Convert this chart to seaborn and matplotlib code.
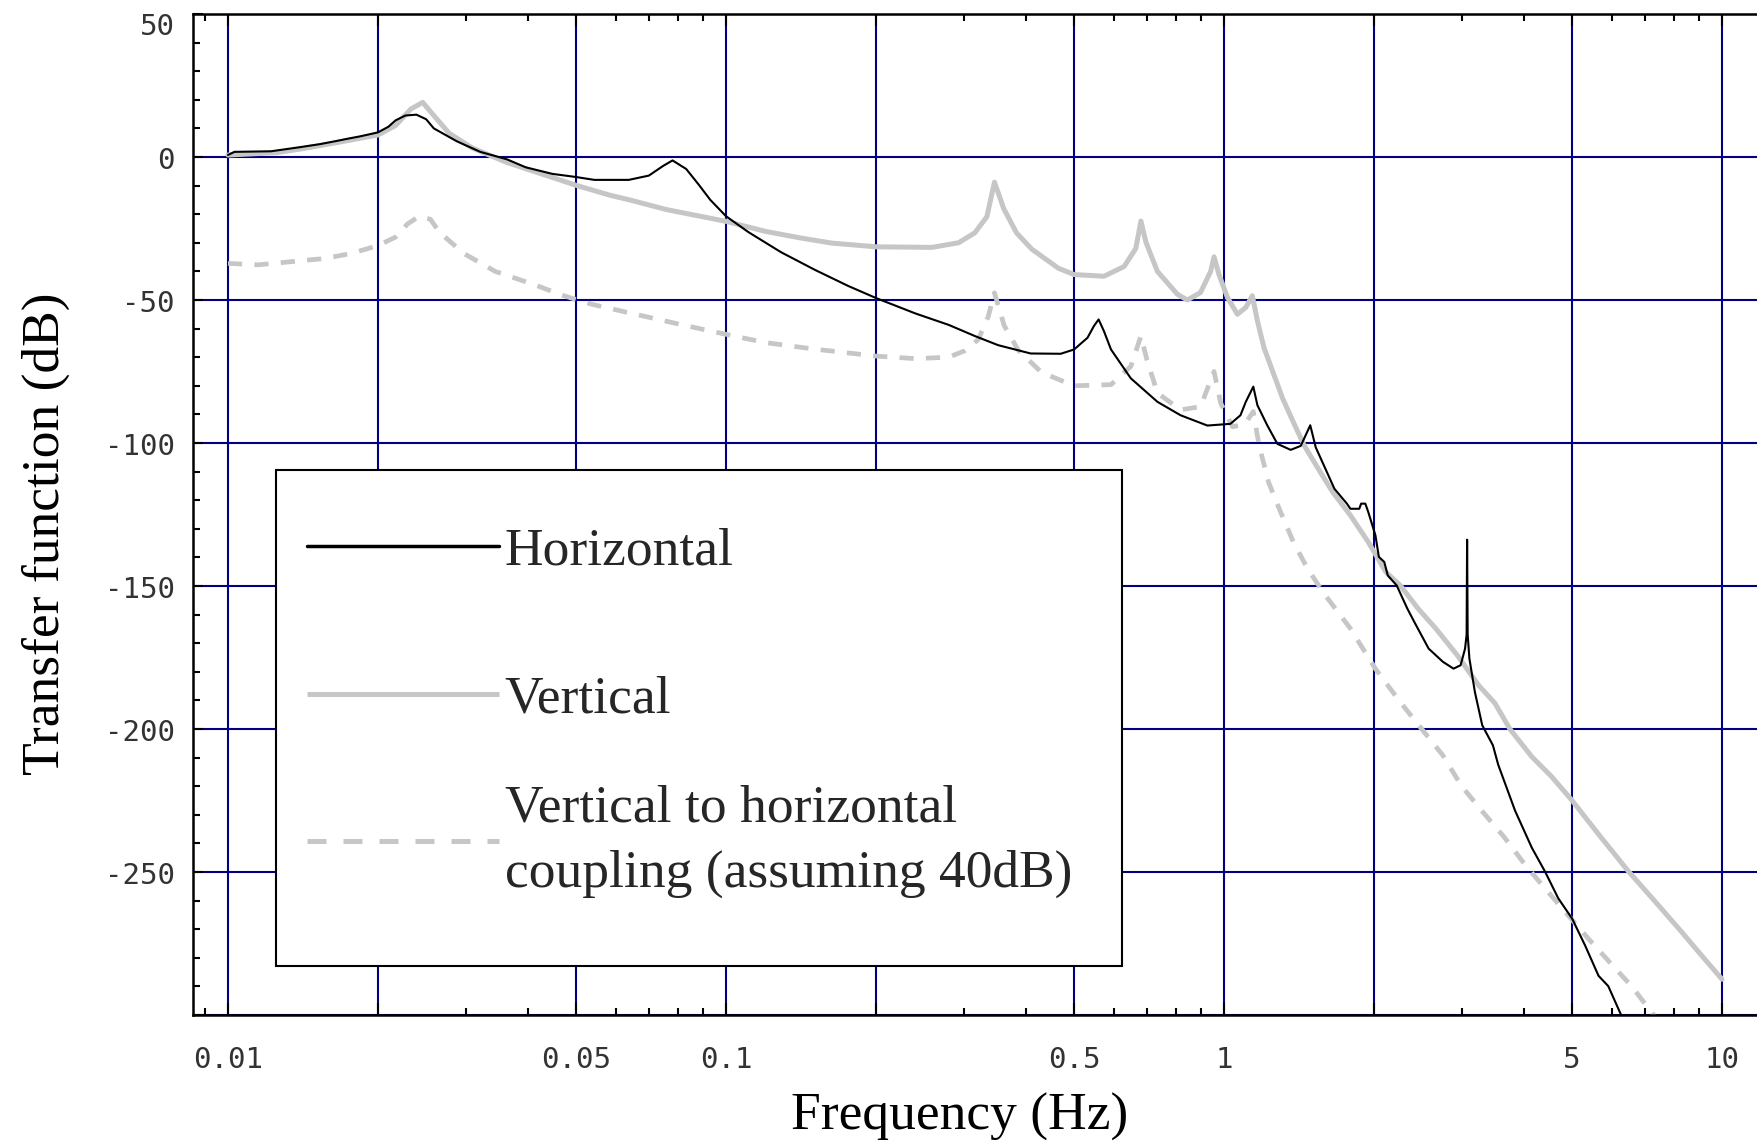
import matplotlib
matplotlib.use("Agg")
import matplotlib.pyplot as plt
import matplotlib.ticker as mticker
import matplotlib.transforms as mtransforms
from matplotlib.lines import Line2D
from matplotlib.patches import Rectangle
import pandas as pd
import seaborn as sns

# Horizontal transfer function (Hz, dB)
freq_h = [0.01, 0.0103, 0.0122, 0.0139, 0.0153, 0.0164, 0.0174, 0.0184, 0.020, 0.021,
          0.0217, 0.0227, 0.0239, 0.0250, 0.0259, 0.0288, 0.0321, 0.0363, 0.0396, 0.0448,
          0.050, 0.0544, 0.0638, 0.0700, 0.0748, 0.0781, 0.0832, 0.0880, 0.0930, 0.100,
          0.111, 0.129, 0.151, 0.176, 0.200, 0.240, 0.280, 0.316, 0.352, 0.409,
          0.470, 0.500, 0.532, 0.548, 0.560, 0.574, 0.593, 0.650, 0.735, 0.818,
          0.926, 1.030, 1.079, 1.106, 1.145, 1.167, 1.222, 1.280, 1.361, 1.426,
          1.490, 1.528, 1.598, 1.666, 1.765, 1.794, 1.869, 1.885, 1.922, 1.948,
          2.014, 2.046, 2.098, 2.132, 2.222, 2.334, 2.411, 2.576, 2.751, 2.890,
          2.986, 3.048, 3.070, 3.077, 3.085, 3.110, 3.190, 3.300, 3.467, 3.553,
          3.840, 4.150, 4.410, 4.690, 5.000, 5.310, 5.650, 5.910, 6.290]
db_h = [0.7, 1.8, 2.0, 3.4, 4.5, 5.5, 6.4, 7.2, 8.6, 10.6,
        12.8, 14.5, 14.8, 13.2, 10.0, 5.5, 1.8, -0.8, -3.6, -5.9,
        -7.0, -8.0, -8.0, -6.5, -3.1, -1.2, -4.2, -9.5, -15.0, -20.7,
        -26.3, -33.3, -39.5, -45.1, -49.3, -54.7, -58.7, -62.6, -65.8, -68.7,
        -68.8, -67.3, -63.2, -59.1, -56.8, -60.9, -67.3, -77.4, -85.6, -90.3,
        -93.9, -93.3, -90.3, -85.6, -80.3, -86.8, -93.9, -100.3, -102.4, -101.0,
        -93.8, -101.5, -109.0, -116.0, -121.2, -123.0, -123.0, -121.2, -121.2, -124.1,
        -132.3, -139.8, -141.6, -146.3, -149.8, -157.9, -162.6, -171.9, -176.5, -178.9,
        -177.7, -171.9, -167.0, -133.8, -167.0, -175.4, -187.1, -198.7, -205.7, -212.5,
        -228.5, -241.5, -249.8, -259.2, -266.3, -275.7, -286.3, -289.9, -300.5]

# Vertical transfer function (Hz, dB)
freq_v = [0.01, 0.0125, 0.014, 0.0165, 0.020, 0.0217, 0.0233, 0.0246, 0.0259, 0.0278,
          0.0309, 0.0363, 0.050, 0.0583, 0.0647, 0.076, 0.100, 0.120, 0.140, 0.163,
          0.200, 0.259, 0.293, 0.316, 0.334, 0.346, 0.361, 0.383, 0.411, 0.465,
          0.500, 0.574, 0.630, 0.665, 0.681, 0.697, 0.735, 0.806, 0.844, 0.897,
          0.940, 0.955, 0.977, 1.016, 1.064, 1.106, 1.140, 1.167, 1.203, 1.260,
          1.312, 1.378, 1.448, 1.546, 1.652, 1.794, 1.948, 2.113, 2.259, 2.453,
          2.663, 2.940, 3.244, 3.500, 3.750, 4.150, 4.550, 5.000, 5.650, 6.490,
          7.450, 8.300, 9.100, 10.0]
db_v = [0.7, 1.5, 2.8, 5.0, 7.7, 11.0, 16.8, 19.1, 14.5, 8.3,
        3.2, -1.9, -9.9, -13.3, -15.2, -18.4, -22.5, -26.0, -28.2, -30.1,
        -31.4, -31.6, -30.0, -26.5, -20.9, -8.8, -18.0, -26.5, -32.2, -38.9,
        -41.1, -41.7, -38.3, -32.0, -22.4, -29.8, -40.0, -48.0, -50.0, -47.4,
        -40.0, -34.9, -41.1, -49.1, -55.0, -52.6, -48.5, -57.3, -66.7, -76.2,
        -84.5, -92.7, -100.8, -109.0, -117.1, -125.3, -134.6, -145.1, -149.8, -157.9,
        -164.9, -174.2, -184.7, -191.0, -200.0, -209.7, -216.7, -225.0, -236.8, -249.8,
        -261.6, -271.0, -279.2, -287.5]

# Vertical-to-horizontal coupling (Hz, dB)
freq_c = [0.01, 0.0115, 0.0156, 0.0176, 0.020, 0.0217, 0.0229, 0.0242, 0.0255, 0.0266,
          0.0298, 0.0344, 0.041, 0.0472, 0.0535, 0.0647, 0.0817, 0.100, 0.120, 0.151,
          0.200, 0.240, 0.280, 0.302, 0.321, 0.336, 0.346, 0.362, 0.386, 0.430,
          0.500, 0.593, 0.650, 0.681, 0.700, 0.735, 0.818, 0.897, 0.955, 0.985,
          1.040, 1.100, 1.145, 1.175, 1.228, 1.291, 1.378, 1.472, 1.598, 1.794,
          2.013, 2.259, 2.492, 2.750, 3.000, 3.290, 3.660, 4.020, 4.410, 4.840,
          5.390, 5.910, 6.580, 7.330]
db_c = [-37.2, -37.7, -35.5, -33.8, -31.0, -28.0, -23.5, -20.7, -21.8, -26.4,
        -33.8, -40.0, -44.5, -48.5, -51.4, -54.7, -58.7, -62.0, -64.9, -67.2,
        -69.6, -70.5, -70.0, -67.7, -63.8, -55.9, -47.5, -59.0, -67.5, -75.3,
        -80.0, -79.6, -73.2, -62.6, -70.8, -82.5, -88.4, -87.3, -75.0, -86.1,
        -94.3, -93.5, -89.0, -100.5, -113.6, -123.0, -134.6, -144.0, -153.3, -164.9,
        -178.9, -190.6, -199.9, -209.2, -220.0, -228.5, -238.0, -247.4, -255.7, -263.9,
        -273.3, -281.0, -289.9, -300.5]

series_names = ["Horizontal", "Vertical",
                "Vertical to horizontal\ncoupling (assuming 40dB)"]

x_major = [0.01, 0.02, 0.05, 0.1, 0.2, 0.5, 1, 2, 5, 10]
x_labels = ["0.01", "", "0.05", "0.1", "", "0.5", "1", "", "5", "10"]
y_major = [-300, -250, -200, -150, -100, -50, 0, 50]
y_labels = ["", "-250", "-200", "-150", "-100", "-50", "0", "50"]

GREY = "#c6c6c6"
NAVY = "#000080"
SERIF = "Liberation Serif"
MONO = "DejaVu Sans Mono"
FS = 38.5

sns.set_theme(style="white")
plt.rcParams["axes.unicode_minus"] = False
plt.rcParams["font.family"] = [MONO]

fig = plt.figure(figsize=(17.58, 11.44), dpi=100)
W, H = 1758, 1144
ax_l, ax_t, ax_b = 193, 14, 1015
aw, ah = W - ax_l, ax_b - ax_t
ax = fig.add_axes([ax_l / W, 1 - ax_b / H, aw / W, ah / H])

df_c = pd.DataFrame({"freq": freq_c, "db": db_c})
df_v = pd.DataFrame({"freq": freq_v, "db": db_v})
df_h = pd.DataFrame({"freq": freq_h, "db": db_h})

sns.lineplot(data=df_c, x="freq", y="db", ax=ax, color=GREY, linewidth=3.4,
             estimator=None, sort=False)
ax.lines[-1].set_dashes((3.0, 2.6))
sns.lineplot(data=df_v, x="freq", y="db", ax=ax, color=GREY, linewidth=3.6,
             estimator=None, sort=False)
sns.lineplot(data=df_h, x="freq", y="db", ax=ax, color="black", linewidth=1.5,
             estimator=None, sort=False)

ax.set_xscale("log")
ax.set_xlim(0.008506, 11.81)
ax.set_ylim(-300, 50)

ax.xaxis.set_major_locator(mticker.FixedLocator(x_major))
ax.xaxis.set_major_formatter(mticker.FixedFormatter(x_labels))
ax.xaxis.set_minor_locator(mticker.LogLocator(base=10, subs=[3, 4, 6, 7, 8, 9]))
ax.xaxis.set_minor_formatter(mticker.NullFormatter())
ax.yaxis.set_major_locator(mticker.FixedLocator(y_major))
ax.yaxis.set_major_formatter(mticker.FixedFormatter(y_labels))
ax.yaxis.set_minor_locator(mticker.MultipleLocator(10))

ax.set_axisbelow(True)
ax.grid(True, which="major", color=NAVY, linewidth=1.5)
ax.grid(False, which="minor")

ax.tick_params(axis="x", which="both", direction="in", top=True, bottom=True,
               color="black", labelcolor="#333333")
ax.tick_params(axis="x", which="major", length=8.5, width=1.5, pad=22, labelsize=21)
ax.tick_params(axis="x", which="minor", length=5, width=1.5)
ax.tick_params(axis="y", which="both", direction="in", left=True, right=False,
               color="black", labelcolor="#333333")
ax.tick_params(axis="y", which="major", length=7, width=1.5, pad=13, labelsize=21)
ax.tick_params(axis="y", which="minor", length=5, width=1.5)

for side in ["left", "top", "bottom"]:
    ax.spines[side].set_color("black")
    ax.spines[side].set_linewidth(1.8)
ax.spines["right"].set_visible(False)

ax.set_xlabel("Frequency (Hz)", fontfamily=SERIF, fontsize=FS, color="black")
ax.xaxis.label.set_va("top")
ax.xaxis.set_label_coords((960 - ax_l) / aw, -(1093 - ax_b) / ah)
ax.set_ylabel("Transfer function (dB)", fontfamily=SERIF, fontsize=FS, color="black")
ax.yaxis.label.set_va("center")
ax.yaxis.set_label_coords((46 - ax_l) / aw, (ax_b - 534) / ah)

# legend frame
frame = Rectangle(((276 - ax_l) / aw, (ax_b - 966) / ah), (1122 - 276) / aw, (966 - 470) / ah,
                  transform=ax.transAxes, facecolor="white", edgecolor="black",
                  linewidth=1.5, zorder=4)
ax.add_patch(frame)

handles = [
    Line2D([], [], color="black", linewidth=2.5),
    Line2D([], [], color=GREY, linewidth=3.6, solid_capstyle="butt"),
    Line2D([], [], color=GREY, linewidth=3.6, dashes=(3.8, 3.4)),
]
leg_kw = dict(loc="upper left", frameon=False, borderpad=0, borderaxespad=0,
              handlelength=3.6, handletextpad=0.1,
              prop={"family": SERIF, "size": FS})
leg_a = ax.legend(handles[:2], series_names[:2],
                  bbox_to_anchor=((307 - ax_l) / aw, (ax_b - 527) / ah),
                  labelspacing=1.87, **leg_kw)
leg_a.set_zorder(5)
ax.add_artist(leg_a)
leg_b = ax.legend(handles[2:], series_names[2:],
                  bbox_to_anchor=((307 - ax_l) / aw, (ax_b - 784) / ah),
                  **leg_kw)
leg_b.set_zorder(5)
for t in leg_b.get_texts():
    t.set_linespacing(1.47)

# tick labels sit slightly below their ticks; the top one a little more
off = mtransforms.ScaledTranslation(0, -1 / 100, fig.dpi_scale_trans)
off_top = mtransforms.ScaledTranslation(0, -10 / 100, fig.dpi_scale_trans)
for value, tick in zip(y_major, ax.yaxis.get_major_ticks()):
    shift = off_top if value == max(y_major) else off
    tick.label1.set_transform(tick.label1.get_transform() + shift)

fig.savefig("out.png", dpi=100, facecolor="white")
